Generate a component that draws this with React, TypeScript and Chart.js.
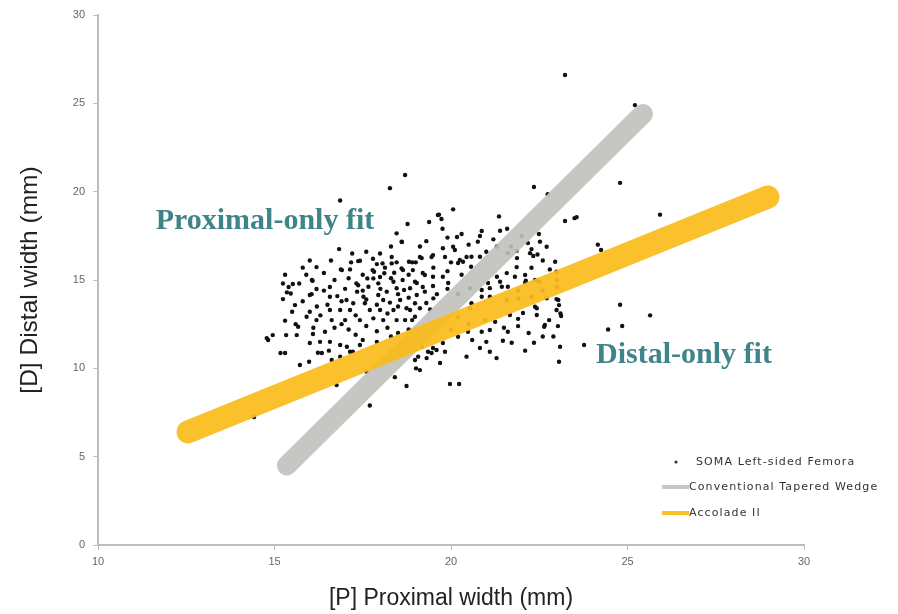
import React, { useEffect, useRef } from "react";
import { Chart, registerables } from "chart.js";

Chart.register(...registerables);

// SOMA left-sided femora: [P] proximal width (mm), [D] distal width (mm)
const somaPoints: number[][] = [
  [23.23, 26.6], [25.21, 24.9], [18.27, 20.2], [18.7, 20.94], [16.86, 19.5], [24.79, 20.5],
  [22.35, 20.26], [22.74, 19.86], [25.92, 18.7], [23.5, 18.5], [20.06, 19.0], [19.63, 18.68],
  [19.73, 18.45], [14.42, 7.24], [17.7, 7.9], [19.97, 9.11], [20.23, 9.11], [18.74, 9.0],
  [23.06, 10.37], [24.79, 13.6], [24.85, 12.4], [25.64, 13.0], [24.45, 12.2], [23.77, 11.32],
  [23.09, 11.22], [24.16, 17.0], [24.25, 16.7], [23.23, 18.34], [23.56, 18.56], [21.36, 18.6],
  [14.78, 11.71], [14.95, 11.88], [15.24, 14.8], [15.35, 14.3], [15.17, 10.87], [15.3, 10.87],
  [14.82, 11.6],
  [18.77, 18.17], [19.38, 18.28], [19.66, 18.7], [18.46, 17.64], [18.61, 17.15], [16.83, 16.75],
  [19.12, 16.9], [16.19, 15.73], [17.99, 16.5], [17.79, 16.2], [17.37, 16.07], [17.17, 16.0],
  [16.91, 15.56], [18.32, 16.3], [18.46, 16.0], [18.9, 16.0], [19.12, 16.3], [19.45, 16.3],
  [18.13, 15.7], [17.78, 15.56], [18.64, 15.56], [19.2, 15.4], [15.52, 14.77], [16.06, 15.0],
  [16.57, 14.6], [17.37, 14.7], [17.99, 15.17], [19.76, 17.9], [20.87, 17.77], [20.82, 17.49],
  [21.39, 17.79], [21.59, 17.9], [20.76, 17.17], [20.17, 17.43], [22.49, 17.6], [18.6, 17.17],
  [19.77, 16.8], [20.06, 16.88], [20.11, 16.7], [19.49, 16.41], [19.83, 16.3], [20.44, 16.3],
  [20.58, 16.32], [20.25, 16.13], [20.34, 16.03], [20.82, 16.32], [19.17, 16.24], [18.81, 16.03],
  [20.57, 15.75], [20.2, 15.96], [22.18, 17.09], [22.52, 17.17], [22.71, 16.88], [22.28, 16.75],
  [22.24, 16.52], [22.33, 16.36], [21.86, 16.65], [21.87, 16.24], [21.61, 16.52], [22.95, 16.03],
  [22.99, 15.47], [22.28, 15.69], [21.86, 15.73], [22.1, 15.28], [21.81, 15.18], [21.58, 15.39],
  [21.3, 15.18], [21.39, 14.9], [21.05, 14.83], [21.44, 14.62], [21.61, 14.62], [22.1, 14.85],
  [22.38, 15.0], [21.1, 14.54], [20.87, 14.43], [18.92, 15.56], [19.26, 15.28], [19.49, 15.18],
  [19.03, 14.83], [19.77, 15.18], [19.92, 14.83], [19.49, 14.66], [19.26, 14.34],
  [15.24, 13.92], [15.58, 13.58], [16.0, 14.15], [15.67, 12.35], [15.91, 12.92], [15.72, 10.19],
  [15.98, 10.37], [16.0, 11.43], [16.29, 11.5], [16.57, 11.5], [16.43, 12.07], [16.34, 10.87],
  [16.62, 10.47], [16.76, 9.05], [18.41, 9.5], [17.61, 9.8], [19.12, 9.9], [18.98, 10.47],
  [19.31, 10.58], [19.45, 10.87], [19.17, 11.22], [19.59, 11.04], [17.42, 11.32], [17.22, 10.94],
  [17.05, 11.22], [16.86, 11.32], [15.33, 11.88], [15.63, 11.88], [16.09, 11.94], [16.23, 10.88],
  [16.54, 11.0], [16.86, 10.66], [17.14, 10.94], [19.01, 10.0], [19.69, 10.3], [20.44, 10.66],
  [21.29, 10.58], [20.82, 11.15], [21.1, 10.94], [21.47, 11.56], [21.72, 11.45], [22.35, 11.45],
  [21.61, 12.07], [21.9, 12.39], [20.87, 12.07], [21.1, 12.17], [20.48, 12.07], [20.2, 11.79],
  [19.77, 11.43], [19.49, 11.15], [19.35, 10.94], [19.07, 10.66], [19.83, 10.94], [21.25, 12.64],
  [21.67, 13.02], [22.04, 13.13], [22.43, 13.02], [22.66, 12.45], [23.03, 12.39], [23.12, 12.96],
  [22.78, 12.73], [22.38, 13.49], [22.99, 13.92], [23.06, 13.58], [21.58, 13.87], [20.87, 14.05],
  [20.58, 13.69], [22.64, 12.35],
  [17.42, 16.09], [17.14, 15.6], [16.88, 15.6], [16.08, 14.96], [15.46, 14.24], [16.05, 14.2],
  [16.19, 14.49], [16.57, 14.05], [16.78, 14.09], [17.04, 13.87], [17.32, 14.81], [17.34, 14.34],
  [17.63, 15.09], [17.8, 15.09], [17.66, 14.62], [17.94, 14.81], [17.82, 15.47], [18.11, 15.38],
  [18.06, 15.94], [18.32, 15.94], [18.39, 15.41], [18.37, 14.9], [18.63, 15.0], [18.46, 14.53],
  [18.67, 14.43], [18.18, 14.34], [17.94, 14.15], [17.52, 14.05], [17.23, 13.68], [17.56, 13.68],
  [18.08, 13.87], [18.27, 13.72], [18.56, 13.87], [18.74, 13.4], [18.37, 13.3], [17.99, 13.3],
  [17.7, 13.3], [17.14, 13.3], [16.86, 13.3], [16.57, 13.3], [17.0, 12.73], [16.62, 12.73],
  [16.19, 12.73], [17.42, 12.73], [17.8, 12.83], [18.08, 12.73], [18.46, 12.73], [18.9, 12.73],
  [22.45, 16.44], [22.12, 14.96], [20.54, 14.53], [18.6, 15.65], [18.98, 14.9], [18.84, 14.53],
  [19.03, 14.15], [18.98, 13.68], [19.5, 13.96], [18.84, 13.3], [19.12, 13.4], [19.41, 13.34],
  [18.7, 12.73], [18.98, 12.92], [20.54, 13.4], [21.1, 14.05], [21.91, 13.96], [22.28, 14.05],
  [22.71, 13.96], [23.04, 13.87], [22.43, 13.4], [20.96, 12.73], [22.99, 13.3],
  [16.7, 12.3], [17.1, 12.2], [17.3, 11.9], [17.6, 12.4], [17.9, 12.1], [18.2, 12.3],
  [18.5, 12.0], [18.8, 12.2], [17.5, 11.6], [17.9, 11.5], [18.3, 11.8], [16.3, 13.0],
  [16.5, 13.6], [16.9, 13.8], [17.3, 13.0], [17.6, 13.9], [17.9, 13.6], [18.2, 13.1],
  [18.5, 13.5], [18.8, 14.0], [19.2, 14.6], [19.3, 13.7], [19.6, 14.2], [19.9, 14.5],
  [20.2, 14.2], [16.2, 13.5], [16.0, 13.2], [15.8, 13.8], [16.4, 14.4], [17.0, 14.5],
  [17.5, 14.4], [18.0, 14.5], [18.5, 14.2], [16.7, 15.0], [17.1, 15.1], [17.5, 15.3],
  [18.3, 15.1], [18.8, 15.3], [19.5, 15.7], [19.9, 15.5], [20.3, 15.3], [16.4, 15.4],
  [17.9, 15.9], [19.0, 16.0], [20.0, 16.0], [15.9, 15.3], [15.4, 14.6], [15.3, 15.3],
  [15.7, 14.8], [15.5, 13.2], [15.3, 12.7], [15.6, 12.5], [16.1, 12.3], [16.9, 12.5],
  [20.2, 12.9], [20.5, 12.5], [20.0, 12.2], [21.5, 12.3], [21.9, 12.8], [22.2, 12.0],
  [22.6, 11.8], [21.0, 11.5], [20.6, 11.6], [22.1, 11.0], [22.9, 11.8], [23.1, 13.1],
  [22.6, 14.4], [23.0, 14.6], [22.5, 14.9], [21.9, 14.4], [23.0, 15.0], [22.8, 15.6],
  [22.6, 16.1], [21.3, 16.9], [21.0, 16.6], [21.7, 16.9], [22.0, 17.5], [21.2, 17.3],
  [20.5, 17.0], [20.3, 17.6], [19.3, 17.2], [19.9, 17.4], [18.3, 16.9], [17.6, 16.6],
  [17.2, 16.5], [16.6, 16.1], [16.0, 16.1], [15.8, 15.7],
];
const somaProximal = somaPoints.map((p) => p[0]);
const somaDistal = somaPoints.map((p) => p[1]);

// Fit lines (end points)
const wedgeProximal = [15.35, 25.44];
const wedgeDistal = [4.5, 24.4];
const accoladeProximal = [12.55, 28.98];
const accoladeDistal = [6.4, 19.7];

// Axis ticks
const xTicks = [10, 15, 20, 25, 30];
const yTicks = [0, 5, 10, 15, 20, 25, 30];

const seriesNames = ["SOMA Left-sided Femora", "Conventional Tapered Wedge", "Accolade II"];
const annotations = [
  { text: "Proximal-only fit", x: 14.73, y: 18.3 },
  { text: "Distal-only fit", x: 26.6, y: 10.75 },
];

const GRAY = "rgba(192,192,188,0.9)";
const YELLOW = "rgba(250,188,28,0.93)";

const overlayPlugin = {
  id: "overlay",
  afterDraw(chart: any) {
    const { ctx, chartArea, scales } = chart;
    ctx.save();
    // annotations
    ctx.font = "bold 30px 'Liberation Serif', 'DejaVu Serif', serif";
    ctx.fillStyle = "#3f8488";
    ctx.textAlign = "center";
    ctx.textBaseline = "middle";
    annotations.forEach((a) => {
      ctx.fillText(a.text, scales.x.getPixelForValue(a.x), scales.y.getPixelForValue(a.y));
    });
    // legend
    const lx = chartArea.right - 142;
    const by = chartArea.bottom;
    ctx.font = "11px 'DejaVu Sans', sans-serif";
    try {
      (ctx as any).letterSpacing = "1.1px";
    } catch (e) {}
    ctx.fillStyle = "#333";
    ctx.textAlign = "left";
    ctx.textBaseline = "middle";
    // row 1: dot
    ctx.beginPath();
    ctx.arc(lx + 14, by - 83, 1.6, 0, Math.PI * 2);
    ctx.fill();
    ctx.fillText(seriesNames[0], lx + 34, by - 83);
    // row 2
    ctx.lineCap = "butt";
    ctx.lineWidth = 4;
    ctx.strokeStyle = GRAY;
    ctx.beginPath();
    ctx.moveTo(lx, by - 58);
    ctx.lineTo(lx + 27, by - 58);
    ctx.stroke();
    ctx.fillText(seriesNames[1], lx + 27, by - 58);
    // row 3
    ctx.strokeStyle = YELLOW;
    ctx.beginPath();
    ctx.moveTo(lx, by - 32);
    ctx.lineTo(lx + 27, by - 32);
    ctx.stroke();
    ctx.fillText(seriesNames[2], lx + 27, by - 32);
    ctx.restore();
  },
};

export default function App() {
  const ref = useRef<HTMLCanvasElement | null>(null);
  useEffect(() => {
    document.body.style.margin = "0";
    const canvas = ref.current;
    if (!canvas) return;
    const chart = new Chart(canvas, {
      type: "scatter",
      data: {
        datasets: [
          {
            label: seriesNames[0],
            data: somaProximal.map((x, i) => ({ x, y: somaDistal[i] })),
            backgroundColor: "#111",
            borderColor: "#111",
            pointRadius: 2.2,
            pointBorderWidth: 0,
            order: 3,
          },
          {
            type: "line",
            label: seriesNames[1],
            data: wedgeProximal.map((x, i) => ({ x, y: wedgeDistal[i] })),
            borderColor: GRAY,
            borderWidth: 20,
            borderCapStyle: "round",
            pointRadius: 0,
            showLine: true,
            order: 2,
          },
          {
            type: "line",
            label: seriesNames[2],
            data: accoladeProximal.map((x, i) => ({ x, y: accoladeDistal[i] })),
            borderColor: YELLOW,
            borderWidth: 23,
            borderCapStyle: "round",
            pointRadius: 0,
            showLine: true,
            order: 1,
          },
        ] as any,
      },
      options: {
        animation: false,
        responsive: false,
        layout: { padding: { top: 15, right: 94, left: 0, bottom: 0 } },
        plugins: { legend: { display: false }, tooltip: { enabled: false } },
        scales: {
          x: {
            type: "linear",
            min: 10,
            max: 30,
            afterBuildTicks: (s: any) => {
              s.ticks = xTicks.map((v) => ({ value: v }));
            },
            afterFit: (s: any) => {
              s.height = 69;
            },
            grid: {
              display: true,
              drawOnChartArea: false,
              drawTicks: true,
              tickLength: 5,
              color: "#bdbdbd",
            },
            border: { color: "#bdbdbd", width: 2 },
            ticks: {
              padding: 5,
              color: "#666",
              font: { size: 11, family: "'Liberation Sans', Arial, sans-serif" },
            },
            title: {
              display: true,
              text: "[P] Proximal width (mm)",
              color: "#222",
              font: { size: 23, family: "'Liberation Sans', Arial, sans-serif" },
              padding: { top: 10, bottom: 2 },
            },
          },
          y: {
            type: "linear",
            min: 0,
            max: 30,
            afterBuildTicks: (s: any) => {
              s.ticks = yTicks.map((v) => ({ value: v }));
            },
            afterFit: (s: any) => {
              s.width = 98;
            },
            grid: {
              display: true,
              drawOnChartArea: false,
              drawTicks: true,
              tickLength: 5,
              color: "#bdbdbd",
            },
            border: { color: "#bdbdbd", width: 2 },
            ticks: {
              padding: 8,
              color: "#666",
              font: { size: 11, family: "'Liberation Sans', Arial, sans-serif" },
            },
            title: {
              display: true,
              text: "[D] Distal width (mm)",
              color: "#222",
              font: { size: 24.5, family: "'Liberation Sans', Arial, sans-serif" },
              padding: { top: 16, bottom: 0 },
            },
          },
        },
      },
      plugins: [overlayPlugin],
    } as any);
    return () => chart.destroy();
  }, []);
  return (
    <div style={{ width: 898, height: 614, background: "#fff" }}>
      <canvas ref={ref} width={898} height={614} style={{ display: "block" }} />
    </div>
  );
}
